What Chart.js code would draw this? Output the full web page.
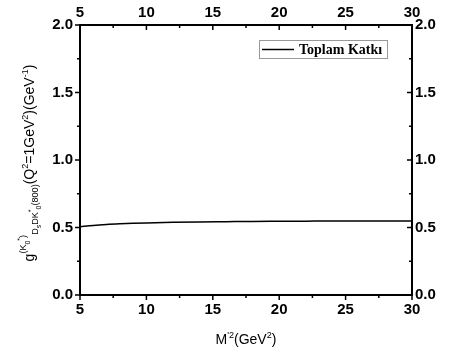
<!DOCTYPE html>
<html>
<head>
<meta charset="utf-8">
<script src="https://cdn.jsdelivr.net/npm/chart.js@4/dist/chart.umd.min.js"></script>
<style>
  html, body { margin: 0; padding: 0; background: #fff; }
  #wrap { width: 449px; height: 356px; }
</style>
</head>
<body>
<div id="wrap"><canvas id="grafik" width="449" height="356"></canvas></div>
<script>
// M'^2 (GeV^2)
const borelM2 = [5, 6, 7, 8, 9, 10, 12, 14, 16, 18, 20, 22, 24, 26, 28, 30];
// toplam katki
const toplamKatki = [0.505, 0.515, 0.522, 0.527, 0.531, 0.534, 0.538, 0.541, 0.543, 0.545, 0.546, 0.547, 0.548, 0.548, 0.549, 0.549];
const xTicks = [5, 10, 15, 20, 25, 30];
const yTicks = [0.0, 0.5, 1.0, 1.5, 2.0];
const serieAdi = 'Toplam Katkı';

const tickFont = { family: 'Liberation Sans, Arial, sans-serif', size: 15, weight: 'bold' };

function eksen(pos, min, max, fit, pad, isY) {
    return {
        type: 'linear',
        position: pos,
        min: min,
        max: max,
        afterBuildTicks: s => { s.ticks = (isY ? yTicks : xTicks).map(v => ({ value: v })); },
        afterFit: fit,
        grid: { drawOnChartArea: false, drawTicks: false },
        border: { display: true, color: '#000', width: 2 },
        ticks: {
            color: '#000',
            font: tickFont,
            padding: pad,
            callback: v => isY ? v.toFixed(1) : String(v)
        }
    };
}

// kucuk ve buyuk tik cizgileri
const tikPlugin = {
    id: 'tikler',
    afterDraw(chart) {
        const ctx = chart.ctx, a = chart.chartArea;
        const sx = chart.scales.x, sy = chart.scales.y;
        ctx.save();
        ctx.strokeStyle = '#000';
        ctx.lineWidth = 1.5;
        ctx.beginPath();
        for (let v = 5; v <= 30.001; v += 2.5) {
            const px = sx.getPixelForValue(v);
            const L = (Math.abs(v % 5) < 0.01) ? 5 : 3;
            ctx.moveTo(px, a.bottom); ctx.lineTo(px, a.bottom + L);
            ctx.moveTo(px, a.top); ctx.lineTo(px, a.top + L);
        }
        for (let v = 0; v <= 2.001; v += 0.25) {
            const py = sy.getPixelForValue(v);
            const L = (Math.abs((v * 2) % 1) < 0.01) ? 5 : 3;
            ctx.moveTo(a.left, py); ctx.lineTo(a.left - L, py);
            ctx.moveTo(a.right, py); ctx.lineTo(a.right - L, py);
        }
        ctx.stroke();
        ctx.restore();
    }
};

// alt/ust simgeli metin parcalari
function parcaCiz(ctx, parts, base, family) {
    let w = 0;
    parts.forEach(p => { ctx.font = (base * p[1]) + 'px ' + family; w += ctx.measureText(p[0]).width; });
    let x = -w / 2;
    parts.forEach(p => {
        ctx.font = (base * p[1]) + 'px ' + family;
        ctx.fillText(p[0], x, p[2]);
        x += ctx.measureText(p[0]).width;
    });
}

const basliklar = {
    id: 'basliklar',
    afterDraw(chart) {
        const ctx = chart.ctx, a = chart.chartArea;
        const fam = 'Liberation Sans, Arial, sans-serif';
        ctx.save();
        ctx.fillStyle = '#000';
        ctx.textBaseline = 'alphabetic';
        // x ekseni basligi
        ctx.translate((a.left + a.right) / 2, 344);
        parcaCiz(ctx, [['M', 1, 0], ["'2", 0.65, -6], ['(GeV', 1, 0], ['2', 0.65, -6], [')', 1, 0]], 14, fam);
        ctx.restore();

        // y ekseni basligi
        ctx.save();
        ctx.fillStyle = '#000';
        ctx.translate(34, (a.top + a.bottom) / 2 + 3);
        ctx.rotate(-Math.PI / 2);
        parcaCiz(ctx, [
            ['g', 1, 0], ['(K', 0.65, -8], ['0', 0.5, -4], ['*', 0.5, -12], [')', 0.65, -8],
            ['D', 0.65, 4], ['s', 0.5, 7], ['DK', 0.65, 4], ['*', 0.5, -1], ['0', 0.5, 7], ['(800)', 0.65, 4],
            ['(Q', 1, 0], ['2', 0.65, -6], ['=1GeV', 1, 0], ['2', 0.65, -6], [')(GeV', 1, 0], ['-1', 0.65, -6], [')', 1, 0]
        ], 14, fam);
        ctx.restore();

        // lejant
        ctx.save();
        ctx.strokeStyle = '#999';
        ctx.lineWidth = 1;
        ctx.strokeRect(259.5, 40.5, 128, 18);
        ctx.strokeStyle = '#000';
        ctx.lineWidth = 1.5;
        ctx.beginPath(); ctx.moveTo(262, 49.5); ctx.lineTo(294, 49.5); ctx.stroke();
        ctx.fillStyle = '#000';
        ctx.font = 'bold 14px Liberation Serif, Times New Roman, serif';
        ctx.textBaseline = 'middle';
        ctx.fillText(chart.data.datasets[0].label, 299, 50);
        ctx.restore();
    }
};

new Chart(document.getElementById('grafik').getContext('2d'), {
    type: 'line',
    data: {
        datasets: [{
            label: serieAdi,
            data: borelM2.map((x, i) => ({ x: x, y: toplamKatki[i] })),
            borderColor: '#000',
            borderWidth: 1.5,
            pointRadius: 0,
            cubicInterpolationMode: 'monotone',
            fill: false
        }]
    },
    options: {
        responsive: false,
        animation: false,
        layout: { padding: 0 },
        plugins: { legend: { display: false }, tooltip: { enabled: false } },
        scales: {
            x: eksen('bottom', 5, 30, s => { s.height = 61; }, 6, false),
            x2: eksen('top', 5, 30, s => { s.height = 25; }, 3, false),
            y: eksen('left', 0, 2, s => { s.width = 80; }, 7, true),
            y2: eksen('right', 0, 2, s => { s.width = 37; }, 3, true)
        }
    },
    plugins: [tikPlugin, basliklar]
});
</script>
</body>
</html>
